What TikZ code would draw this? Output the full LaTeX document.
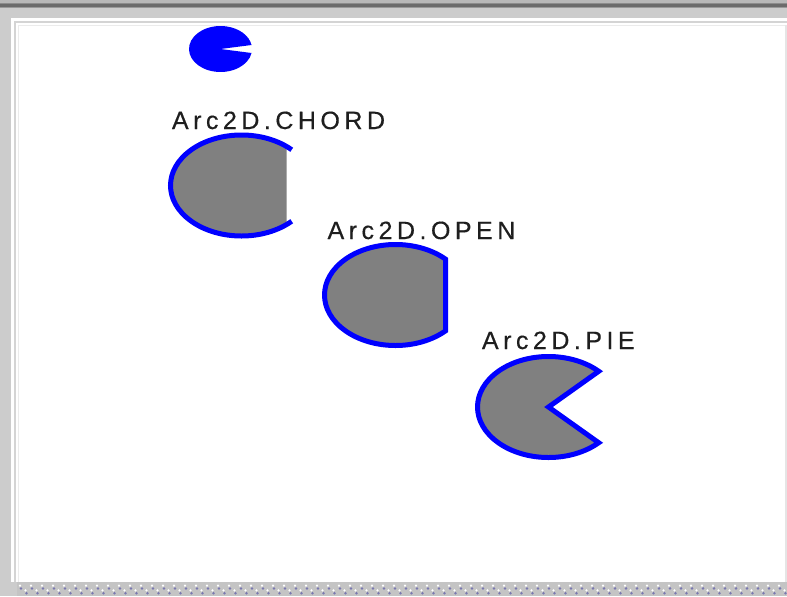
\documentclass[tikz,border=0pt]{standalone}
\usepackage{fontspec}
\setmainfont{Liberation Sans}
\newfontfamily\labelfont[LetterSpace=18,FakeBold=0.4]{Liberation Sans}

\definecolor{panelgray}{RGB}{204,204,204}
\definecolor{edgegray}{RGB}{212,212,212}
\definecolor{arcblue}{RGB}{0,0,255}
\definecolor{arcfill}{RGB}{128,128,128}
\definecolor{dotpurple}{RGB}{122,120,176}
\definecolor{inktext}{RGB}{30,30,30}

\begin{document}
\begin{tikzpicture}[x=0.75pt,y=-0.75pt,
  arcstroke/.style={draw=arcblue, line width=3.75pt},
  arcbody/.style={fill=arcfill},
  lbl/.style={anchor=base west, inner sep=0pt, text=inktext,
    font=\labelfont\fontsize{18.75}{20}\selectfont}]
\useasboundingbox (0,0) rectangle (787,596);

% window background and title bar edge
\fill[panelgray] (0,0) rectangle (787,596);
\fill[black!28] (0,0) rectangle (787,2.7);
\fill[black!45] (0,2.7) rectangle (787,4);
\fill[black!58] (0,4) rectangle (787,6.7);
\fill[black!40] (0,6.7) rectangle (787,8);

% drawing panel with its bevelled border
\fill[white] (11,18) rectangle (787,582);
\draw[edgegray, line width=1.8pt] (15.2,582) -- (15.2,22) -- (787,22);
\draw[black!8, line width=0.75pt] (18.5,582) -- (18.5,25.5) -- (787,25.5);
\draw[black!10, line width=1.2pt] (785.8,25) -- (785.8,582);

% dotted status strip
\fill[black!23] (17,582) rectangle (787,596);
\foreach \i in {0,...,70} {
  \pgfmathsetmacro{\px}{20+11*\i}
  \fill[white] (\px,585.6) circle[radius=1.2];
  \fill[dotpurple] (\px+1,588.4) circle[radius=1.4];
  \fill[white] (\px+5.5,590.4) circle[radius=1.2];
  \fill[dotpurple] (\px+6.5,593.2) circle[radius=1.4];
}

% small solid arc
\fill[arcblue] (220.5,49) -- ++(10:31.5 and 23)
  arc[start angle=10, end angle=350, x radius=31.5, y radius=23] -- cycle;

% CHORD: chord-filled body, outline along the arc only
\begin{scope}
  \clip (150,120) rectangle (286.5,250);
  \fill[arcbody] (241.5,185.5) ++(45:71 and 50.5)
    arc[start angle=45, end angle=315, x radius=71, y radius=50.5] -- cycle;
\end{scope}
\draw[arcstroke] (241.5,185.5) ++(45:71 and 50.5)
  arc[start angle=45, end angle=315, x radius=71, y radius=50.5];
\node[lbl] (lchord) at (171.7,129) {Arc2D.CHORD};

% OPEN: body closed by a straight blue edge
\filldraw[arcbody, arcstroke] (395.5,295) ++(45:71 and 50.5)
  arc[start angle=45, end angle=315, x radius=71, y radius=50.5] -- cycle;
\node[lbl] (lopen) at (327.3,239) {Arc2D.OPEN};

% PIE: wedge back to the centre
\filldraw[arcbody, arcstroke] (548.5,407) -- ++(45:71 and 50.5)
  arc[start angle=45, end angle=315, x radius=71, y radius=50.5] -- cycle;
\node[lbl] (lpie) at (481.7,349) {Arc2D.PIE};
\end{tikzpicture}
\end{document}
